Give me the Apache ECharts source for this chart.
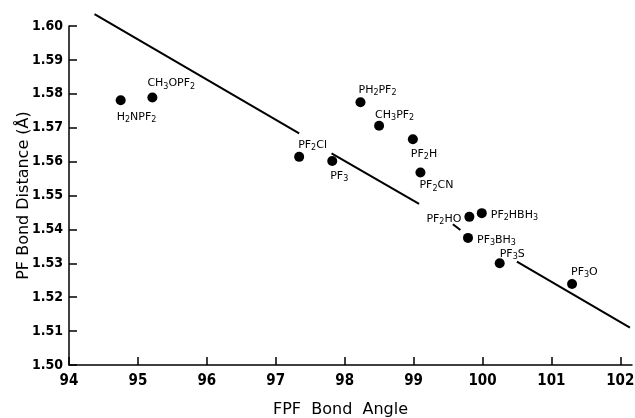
<!DOCTYPE html>
<html>
<head>
<meta charset="utf-8">
<script src="https://cdn.jsdelivr.net/npm/echarts@6/dist/echarts.min.js"></script>
<style>
  html, body { margin: 0; padding: 0; background: #fff; }
  #main { width: 635px; height: 418px; }
</style>
</head>
<body>
<div id="main"></div>
<script>
// compounds: FPF angle (deg) vs PF bond distance (A)
const names = ['H_2NPF_2', 'CH_3OPF_2', 'PF_2Cl', 'PF_3', 'PH_2PF_2', 'CH_3PF_2', 'PF_2H',
  'PF_2CN', 'PF_2HO', 'PF_2HBH_3', 'PF_3BH_3', 'PF_3S', 'PF_3O'];
const angles = [94.75, 95.21, 97.34, 97.82, 98.23, 98.50, 98.99, 99.10, 99.81, 99.99, 99.79, 100.25, 101.30];
const distances = [1.5781, 1.5789, 1.5614, 1.5602, 1.5775, 1.5706, 1.5666, 1.5568, 1.5437, 1.5448, 1.5375, 1.5300, 1.5239];

// fitted line, drawn in pieces (broken where labels sit)
const fitSegments = [
  [[94.37, 1.6035], [97.34, 1.5683]],
  [[97.81, 1.5624], [99.08, 1.5475]],
  [[99.57, 1.5415], [99.68, 1.5398]],
  [[100.50, 1.5305], [102.14, 1.5110]]
];

const xTicks = [94, 95, 96, 97, 98, 99, 100, 101, 102];
const yTicks = [1.50, 1.51, 1.52, 1.53, 1.54, 1.55, 1.56, 1.57, 1.58, 1.59, 1.60];

// label placement: [dx, dy, align]
const labelPos = [
  [-4, 17, 'left'], [-5, -14, 'left'], [-1, -12, 'left'], [-2, 15, 'left'],
  [-2, -12, 'left'], [-4, -11, 'left'], [-2, 15, 'left'], [-1, 13, 'left'],
  [-8, 2, 'right'], [9, 2, 'left'], [9, 2, 'left'], [0, -9, 'left'], [-1, -12, 'left']
];

// 'PF_2Cl' -> rich text with subscripts
function toRich(s) {
  return s.split(/(_\d)/).filter(p => p).map(p =>
    p[0] === '_' ? '{s|' + p.slice(1) + '}' : '{a|' + p + '}').join('');
}

const chart = echarts.init(document.getElementById('main'));
const font = 'DejaVu Sans';
const tickFont = '"Liberation Sans Narrow", "DejaVu Sans Condensed"';

const scatterData = angles.map((x, i) => ({
  value: [x, distances[i]],
  label: {
    show: true,
    position: 'inside',
    align: labelPos[i][2],
    verticalAlign: 'middle',
    offset: [labelPos[i][0], labelPos[i][1]],
    formatter: toRich(names[i]),
    color: '#000',
    rich: {
      a: { fontFamily: font, fontSize: 11, color: '#000', lineHeight: 14 },
      s: { fontFamily: font, fontSize: 8, color: '#000', padding: [6, 0, 0, 0], lineHeight: 14 }
    }
  }
}));

const series = fitSegments.map(seg => ({
  type: 'line',
  data: seg,
  symbol: 'none',
  clip: false,
  silent: true,
  lineStyle: { color: '#000', width: 2 }
}));
series.push({
  type: 'scatter',
  data: scatterData,
  symbolSize: 10,
  itemStyle: { color: '#000', opacity: 1 },
  z: 3
});

const option = {
  animation: false,
  backgroundColor: '#fff',
  grid: { left: 69, right: 3, top: 26, bottom: 53, outerBoundsMode: 'none', containLabel: false },
  xAxis: {
    type: 'value',
    min: 94,
    max: 102.17,
    interval: 1,
    name: 'FPF  Bond  Angle',
    nameLocation: 'middle',
    nameGap: 37,
    nameMoveOverlap: false,
    nameTextStyle: { fontFamily: font, fontSize: 16, color: '#000', padding: [0, 20, 0, 0] },
    axisLine: { show: true, onZero: false, lineStyle: { color: '#000', width: 1.5 } },
    axisTick: { show: true, inside: true, length: 8, customValues: xTicks, lineStyle: { color: '#000', width: 1.5 } },
    axisLabel: { customValues: xTicks, margin: 9, fontFamily: tickFont, fontWeight: 'bold', fontSize: 15, color: '#000' },
    splitLine: { show: false }
  },
  yAxis: {
    type: 'value',
    min: 1.50,
    max: 1.60,
    interval: 0.01,
    name: 'PF Bond Distance (Å)',
    nameLocation: 'middle',
    nameRotate: 90,
    nameGap: 37,
    nameMoveOverlap: false,
    nameTextStyle: { fontFamily: font, fontSize: 16, color: '#000' },
    axisLine: { show: true, onZero: false, lineStyle: { color: '#000', width: 1.5 } },
    axisTick: { show: true, inside: true, length: 8, customValues: yTicks, lineStyle: { color: '#000', width: 1.5 } },
    axisLabel: {
      customValues: yTicks, margin: 6, fontFamily: tickFont, fontWeight: 'bold', fontSize: 14, color: '#000',
      formatter: v => v.toFixed(2)
    },
    splitLine: { show: false }
  },
  series: series
};

chart.setOption(option);
</script>
</body>
</html>
